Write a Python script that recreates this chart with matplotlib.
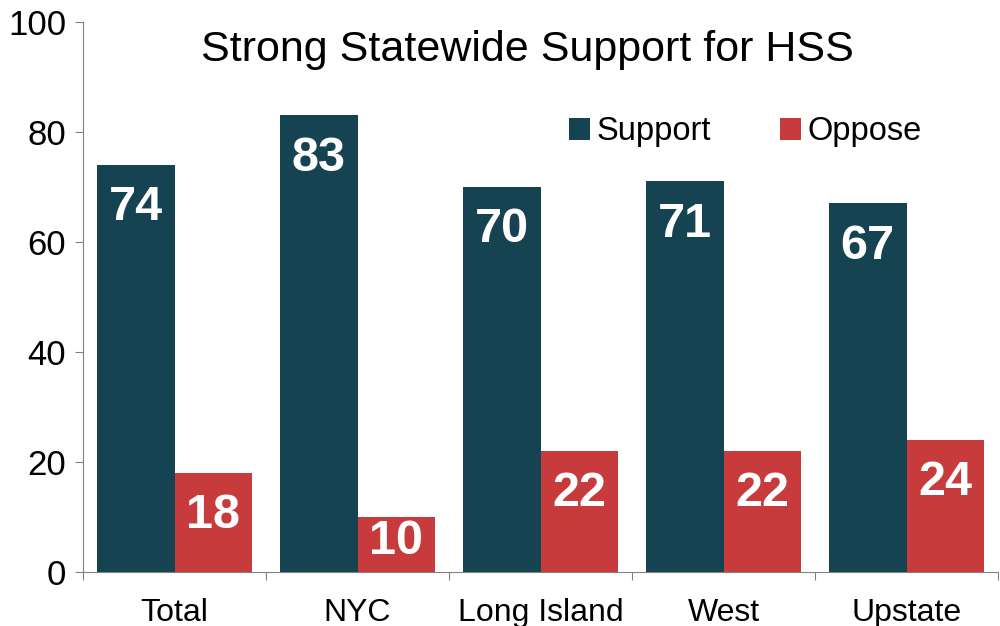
import matplotlib.pyplot as plt
import numpy as np

plt.rcParams['font.family'] = ['Liberation Sans', 'DejaVu Sans']

regions = ['Total', 'NYC', 'Long Island', 'West', 'Upstate']
support = [74, 83, 70, 71, 67]
oppose = [18, 10, 22, 22, 24]

fig = plt.figure(figsize=(10, 6.26), dpi=100)
ax = fig.add_axes([0.083, 0.0863, 0.915, 0.8786])

x = np.arange(len(regions))
w = 0.425
b1 = ax.bar(x - w / 2, support, w, color='#164352', label='Support')
b2 = ax.bar(x + w / 2, oppose, w, color='#c83b3c', label='Oppose')

# labels sit inside the bar near its top; short bars keep them off the axis
for bars, vals in [(b1, support), (b2, oppose)]:
    for r, v in zip(bars, vals):
        ax.text(r.get_x() + r.get_width() / 2, max(v - 7.8, 5.6), str(v),
                ha='center', va='center', color='white',
                fontsize=35, fontweight='bold')

ax.set_xlim(-0.5, 4.5)
ax.set_ylim(0, 100)
ax.set_yticks(range(0, 101, 20))
ax.set_xticks(np.arange(-0.5, 5, 1))
ax.set_xticklabels([])
ax.set_xticks(x, minor=True)
ax.set_xticklabels(regions, minor=True, fontsize=23)
ax.tick_params(axis='x', which='minor', length=0, pad=19)
ax.tick_params(axis='x', which='major', length=6, color='#808080')
ax.tick_params(axis='y', labelsize=25, length=6, color='#808080', pad=6)

for s in ['top', 'right']:
    ax.spines[s].set_visible(False)
for s in ['left', 'bottom']:
    ax.spines[s].set_color('#808080')

ax.text(0.486, 0.949, 'Strong Statewide Support for HSS', transform=ax.transAxes,
        ha='center', va='center', fontsize=31)
ax.legend(loc='center left', bbox_to_anchor=(0.531, 0.80), ncol=2, frameon=False,
          fontsize=23.5, handlelength=0.65, handleheight=0.65, handletextpad=0.2,
          columnspacing=2.1, borderpad=0, borderaxespad=0)

fig.savefig('out.png')
